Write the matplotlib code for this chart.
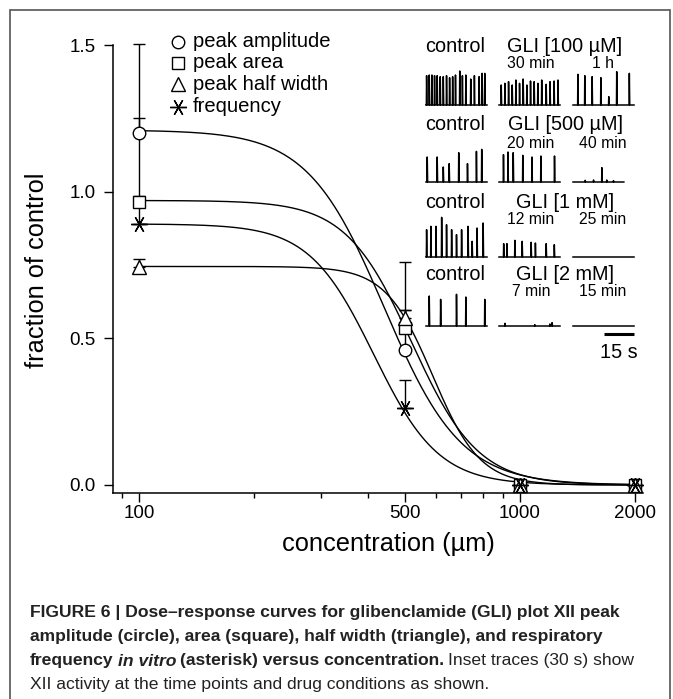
import numpy as np
import matplotlib
matplotlib.use('Agg')
import matplotlib.pyplot as plt
from matplotlib.patches import Rectangle

W, H = 673, 699

# dose-response data (fraction of control)
conc = [100, 500, 1000, 2000]
amplitude = [1.20, 0.46, 0.0, 0.0]
amplitude_err = [0.305, 0.30, 0.012, 0.012]
area = [0.965, 0.535, 0.0, 0.0]
area_err = [0.02, 0.06, 0.012, 0.012]
half_width = [0.744, 0.57, 0.0, 0.0]
half_width_err = [0.026, 0.027, 0.012, 0.012]
frequency = [0.89, 0.262, 0.0, 0.0]
frequency_err = [0.36, 0.096, 0.012, 0.012]

# Hill fit parameters: amplitude, area, half width, frequency
fit_top = [1.21, 0.97, 0.745, 0.89]
fit_ec50 = [440, 520, 590, 413]
fit_hill = [4.3, 5.0, 7.0, 5.1]

labels = ['peak amplitude', 'peak area', 'peak half width', 'frequency']
x_ticks = [100, 500, 1000, 2000]
x_minor = [90, 200, 300, 400, 600, 700, 800, 900]
y_ticks = [0.0, 0.5, 1.0, 1.5]

# inset traces: spike times (s) and relative heights
r1_ctrl_t = [0.3, 1.6, 2.9, 4.2, 5.5, 7.0, 8.5, 10.1, 11.6, 13.1, 14.5, 16.6, 17.9, 19.6, 22.0, 23.8, 26.1, 27.6, 28.9]
r1_ctrl_h = [0.88, 0.9, 0.9, 0.88, 0.88, 0.85, 0.85, 0.88, 0.82, 0.85, 0.9, 1.02, 0.88, 0.9, 0.78, 0.88, 0.85, 0.95, 0.95]
r1_a_t = [1.1, 2.9, 4.7, 6.5, 8.3, 10.1, 11.9, 13.7, 15.5, 17.3, 19.1, 21.0, 23.2, 25.1, 27.1, 29.0]
r1_a_h = [0.6, 0.65, 0.7, 0.6, 0.75, 0.65, 0.78, 0.6, 0.72, 0.7, 0.65, 0.75, 0.62, 0.7, 0.72, 0.75]
r1_b_t = [2.4, 5.8, 9.4, 13.7, 17.6, 21.5, 27.7]
r1_b_h = [0.92, 0.88, 0.85, 0.82, 0.25, 1.0, 0.95]

r2_ctrl_t = [0.6, 5.5, 8.5, 11.4, 16.1, 20.4, 24.8, 27.4]
r2_ctrl_h = [0.75, 0.75, 0.45, 0.55, 0.88, 0.55, 0.92, 0.98]
r2_a_t = [2.2, 4.4, 7.0, 11.7, 16.2, 20.6, 27.3]
r2_a_h = [0.82, 0.9, 0.88, 0.8, 0.75, 0.78, 0.78]
r2_b_t = [6.0, 10.1, 14.2, 16.6, 19.9]
r2_b_h = [0.05, 0.06, 0.43, 0.06, 0.04]

r3_ctrl_t = [0.3, 2.4, 4.9, 7.7, 10.1, 12.6, 15.0, 17.5, 20.7, 22.7, 25.1, 28.1]
r3_ctrl_h = [0.82, 0.92, 0.92, 1.19, 0.97, 0.82, 0.67, 0.82, 0.92, 0.47, 0.87, 1.02]
r3_a_t = [2.3, 3.9, 7.8, 11.4, 15.8, 17.9, 23.2, 27.2]
r3_a_h = [0.4, 0.4, 0.5, 0.47, 0.44, 0.42, 0.4, 0.37]
r3_b_t = []
r3_b_h = []

r4_ctrl_t = [1.6, 7.2, 15.0, 19.6, 28.9]
r4_ctrl_h = [0.9, 0.8, 0.95, 0.87, 0.8]
r4_a_t = [2.9, 17.6, 25.0, 26.1]
r4_a_h = [0.08, 0.04, 0.06, 0.1]
r4_b_t = []
r4_b_h = []

row_titles = ['GLI [100 µM]', 'GLI [500 µM]', 'GLI [1 mM]', 'GLI [2 mM]']
row_times = [['30 min', '1 h'], ['20 min', '40 min'], ['12 min', '25 min'], ['7 min', '15 min']]

plt.rcParams['font.family'] = ['Liberation Sans', 'DejaVu Sans']
fig = plt.figure(figsize=(W / 100, H / 100), dpi=100)


def fx(x):
    return x / W


def fy(y):
    return 1 - y / H


# frame around figure and caption
fig.add_artist(Rectangle((fx(10), fy(712)), fx(660), (702) / H, transform=fig.transFigure,
                         fill=False, edgecolor='#555555', linewidth=1.2))

ax = fig.add_axes([fx(112.7), fy(493.3), fx(530), (493.3 - 45) / H])
ax.set_xscale('log')
ax.set_xlim(85.2, 2100)
ax.set_ylim(-0.0283, 1.5)

xs = np.logspace(2, np.log10(2000), 400)
for top, ec, n in zip(fit_top, fit_ec50, fit_hill):
    ax.plot(xs, top / (1 + (xs / ec) ** n), color='black', lw=1.0)

star = (6, 2, 90)
series = [(amplitude, amplitude_err, 'o', 9), (area, area_err, 's', 8.5),
          (half_width, half_width_err, '^', 9.5), (frequency, frequency_err, star, 12)]
for vals, err, m, ms in series:
    ax.errorbar(conc, vals, yerr=[np.zeros(len(err)), err], fmt='none', ecolor='black',
                elinewidth=1.0, capsize=4.5, capthick=1.0, clip_on=False)
    ax.plot(conc, vals, linestyle='none', marker=m, ms=ms, mfc='white', mec='black',
            mew=1.0, clip_on=False, zorder=3)

for s in ['top', 'right']:
    ax.spines[s].set_visible(False)
for s in ['left', 'bottom']:
    ax.spines[s].set_linewidth(1.1)
ax.set_xticks(x_ticks)
ax.set_xticklabels([str(v) for v in x_ticks])
ax.set_xticks(x_minor, minor=True)
ax.set_xticklabels([], minor=True)
ax.set_yticks(y_ticks)
ax.set_yticklabels(['%.1f' % v for v in y_ticks])
ax.tick_params(axis='both', which='major', length=6.5, width=1.0, labelsize=13.5, direction='out')
ax.tick_params(axis='x', which='major', pad=2)
ax.tick_params(axis='y', which='major', pad=6)
ax.tick_params(axis='x', which='minor', length=3.5, width=1.0)
ax.set_facecolor('none')

fig.text(fx(388.5), fy(544), 'concentration (µm)', ha='center', va='center', fontsize=18.3)
fig.text(fx(37), fy(270), 'fraction of control', ha='center', va='center', rotation=90, fontsize=18.3)

# legend
leg_y = [41.7, 62.7, 84, 107]
leg_m = [('o', 9), ('s', 8.5), ('^', 9.5), (star, 12)]
for (m, ms), yy, lab in zip(leg_m, leg_y, labels):
    ax.plot([fx(178)], [fy(yy)], transform=fig.transFigure, marker=m, ms=ms, mfc='white',
            mec='black', mew=1.0, linestyle='none', clip_on=False)
    fig.text(fx(193), fy(yy), lab, ha='left', va='center', fontsize=14.6)

# inset traces
traces = [
    [(r1_ctrl_t, r1_ctrl_h, 30), (r1_a_t, r1_a_h, 30), (r1_b_t, r1_b_h, 30)],
    [(r2_ctrl_t, r2_ctrl_h, 30), (r2_a_t, r2_a_h, 30), (r2_b_t, r2_b_h, 25)],
    [(r3_ctrl_t, r3_ctrl_h, 30), (r3_a_t, r3_a_h, 30), (r3_b_t, r3_b_h, 30)],
    [(r4_ctrl_t, r4_ctrl_h, 30), (r4_a_t, r4_a_h, 30), (r4_b_t, r4_b_h, 30)],
]
col_left = [426, 499, 573]
row_base = [105, 182, 257, 326]
row_title_y = [47, 125, 202, 274]
row_sub_y = [64, 143, 219, 292]
unit = 33.3

for r, row in enumerate(traces):
    fig.text(fx(455), fy(row_title_y[r]), 'control', ha='center', va='center', fontsize=14.3)
    fig.text(fx(565), fy(row_title_y[r]), row_titles[r], ha='center', va='center', fontsize=14.3)
    fig.text(fx(531), fy(row_sub_y[r]), row_times[r][0], ha='center', va='center', fontsize=11.3)
    fig.text(fx(603), fy(row_sub_y[r]), row_times[r][1], ha='center', va='center', fontsize=11.3)
    for c, (ts, hs, dur) in enumerate(row):
        tax = fig.add_axes([fx(col_left[c]), fy(row_base[r]), fx(61 * dur / 30), 1.3 * unit / H])
        tax.set_xlim(0, dur)
        tax.set_ylim(0, 1.3)
        tax.axis('off')
        px, py = [0], [0]
        for t, h in zip(ts, hs):
            px += [t - 0.12, t, t + 0.2]
            py += [0, h, 0]
        px.append(dur)
        py.append(0)
        tax.plot(px, py, color='black', lw=1.1, clip_on=False)
        if r == 3 and c == 2:
            tax.plot([15, 30], [-0.25, -0.25], color='black', lw=2.2, clip_on=False, solid_capstyle='butt')

fig.text(fx(619), fy(352), '15 s', ha='center', va='center', fontsize=14.3)

# caption
cap_fam = ['Liberation Sans', 'DejaVu Sans']
cap_size = 12.6
cap_lines = [
    [('FIGURE 6 | Dose\u2013response curves for glibenclamide (GLI) plot XII peak', 'bold', 'normal')],
    [('amplitude (circle), area (square), half width (triangle), and respiratory', 'bold', 'normal')],
    [('frequency', 'bold', 'normal'), ('in vitro', 'bold', 'italic'),
     ('(asterisk) versus concentration.', 'bold', 'normal'), ('Inset traces (30 s) show', 'normal', 'normal')],
    [('XII activity at the time points and drug conditions as shown.', 'normal', 'normal')],
]
cap_y = [613, 637, 661, 685]
fig.canvas.draw()
renderer = fig.canvas.get_renderer()
for line, yy in zip(cap_lines, cap_y):
    x = 30
    for txt, wt, st in line:
        t = fig.text(fx(x), fy(yy), txt, ha='left', va='center', fontsize=cap_size,
                     fontweight=wt, fontstyle=st, family=cap_fam, color='#222222')
        bb = t.get_window_extent(renderer)
        x += bb.width + 4

fig.savefig('out.png', dpi=100)
